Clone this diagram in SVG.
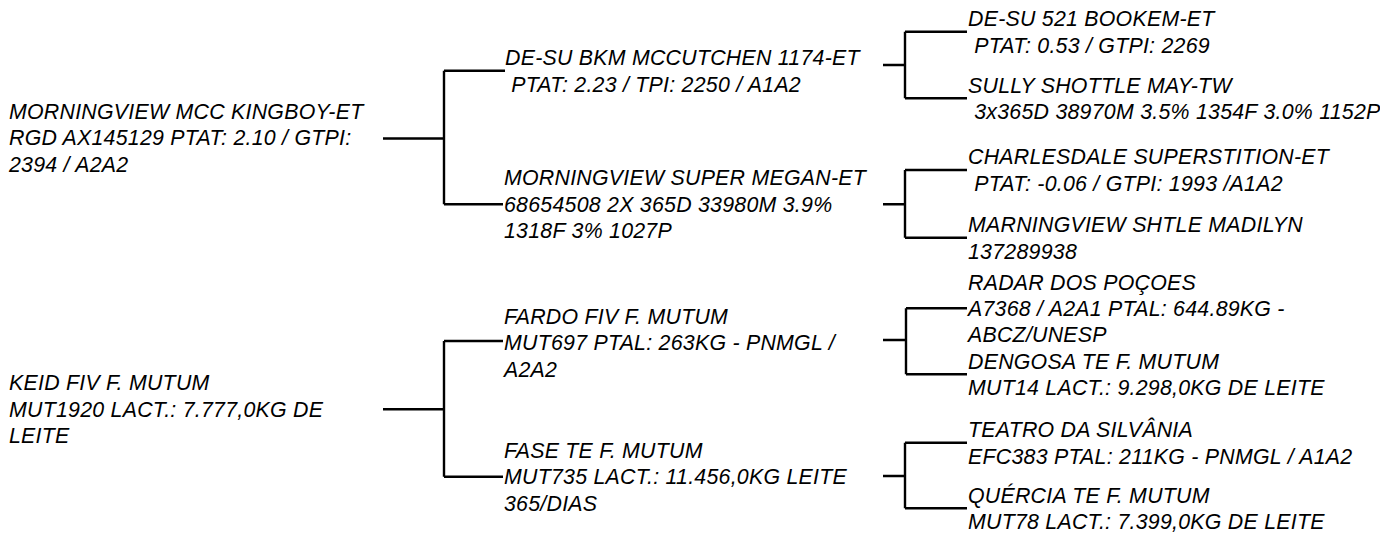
<svg xmlns="http://www.w3.org/2000/svg" width="1380" height="533" viewBox="0 0 1380 533">
<style>
  text { font-family: "Liberation Sans", Arial, sans-serif; font-size: 21.33px; letter-spacing: 0.25px; font-style: italic; fill: #000; }
  .c { stroke: #000; stroke-width: 2.4; fill: none; }
</style>
<rect width="1380" height="533" fill="#fff"/>
<g id="connectors">
  <path class="c" d="M383,138.5 H444 M444,70.7 V204.3 M444,70.7 H505 M444,204.3 H503"/>
  <path class="c" d="M883,65 H905 M905,31.7 V98.3 M905,31.7 H967 M905,98.3 H967"/>
  <path class="c" d="M883,204.3 H905 M905,170 V237.7 M905,170 H967 M905,237.7 H967"/>
  <path class="c" d="M383,409.3 H444 M444,341 V476.7 M444,341 H503 M444,476.7 H503"/>
  <path class="c" d="M883,340 H906 M906,308.3 V374.3 M906,308.3 H967 M906,374.3 H967"/>
  <path class="c" d="M883,476 H905 M905,442.7 V508.3 M905,442.7 H967 M905,508.3 H967"/>
</g>
<g id="root1"><text><tspan x="9" y="118.5">MORNINGVIEW MCC KINGBOY-ET</tspan><tspan x="9" y="145">RGD AX145129 PTAT: 2.10 / GTPI:</tspan><tspan x="9" y="171.5">2394 / A2A2</tspan></text></g>
<g id="m1"><text><tspan x="505" y="65">DE-SU BKM MCCUTCHEN 1174-ET</tspan><tspan x="511.2" y="91.5">PTAT: 2.23 / TPI: 2250 / A1A2</tspan></text></g>
<g id="m2"><text><tspan x="504" y="185">MORNINGVIEW SUPER MEGAN-ET</tspan><tspan x="504" y="211.5">68654508 2X 365D 33980M 3.9%</tspan><tspan x="504" y="238">1318F 3% 1027P</tspan></text></g>
<g id="a"><text><tspan x="968" y="26">DE-SU 521 BOOKEM-ET</tspan><tspan x="974.2" y="52.5">PTAT: 0.53 / GTPI: 2269</tspan></text></g>
<g id="b"><text><tspan x="968" y="92.5">SULLY SHOTTLE MAY-TW</tspan><tspan x="974.2" y="119">3x365D 38970M 3.5% 1354F 3.0% 1152P</tspan></text></g>
<g id="c"><text><tspan x="968" y="164.3">CHARLESDALE SUPERSTITION-ET</tspan><tspan x="974.2" y="190.8">PTAT: -0.06 / GTPI: 1993 /A1A2</tspan></text></g>
<g id="d"><text><tspan x="968" y="232">MARNINGVIEW SHTLE MADILYN</tspan><tspan x="968" y="258.5">137289938</tspan></text></g>
<g id="root2"><text><tspan x="9" y="390">KEID FIV F. MUTUM</tspan><tspan x="9" y="416.5">MUT1920 LACT.: 7.777,0KG DE</tspan><tspan x="9" y="443">LEITE</tspan></text></g>
<g id="m3"><text><tspan x="504" y="323.5">FARDO FIV F. MUTUM</tspan><tspan x="504" y="350">MUT697 PTAL: 263KG - PNMGL /</tspan><tspan x="504" y="376.5">A2A2</tspan></text></g>
<g id="m4"><text><tspan x="504" y="457.5">FASE TE F. MUTUM</tspan><tspan x="504" y="484">MUT735 LACT.: 11.456,0KG LEITE</tspan><tspan x="504" y="510.5">365/DIAS</tspan></text></g>
<g id="e"><text><tspan x="968" y="289.5">RADAR DOS POÇOES</tspan><tspan x="968" y="315.8">A7368 / A2A1 PTAL: 644.89KG -</tspan><tspan x="968" y="342">ABCZ/UNESP</tspan></text></g>
<g id="f"><text><tspan x="968" y="368.5">DENGOSA TE F. MUTUM</tspan><tspan x="968" y="395">MUT14 LACT.: 9.298,0KG DE LEITE</tspan></text></g>
<g id="g"><text><tspan x="968" y="437">TEATRO DA SILVÂNIA</tspan><tspan x="968" y="463.5">EFC383 PTAL: 211KG - PNMGL / A1A2</tspan></text></g>
<g id="h"><text><tspan x="968" y="502.5">QUÉRCIA TE F. MUTUM</tspan><tspan x="968" y="529">MUT78 LACT.: 7.399,0KG DE LEITE</tspan></text></g>
</svg>
